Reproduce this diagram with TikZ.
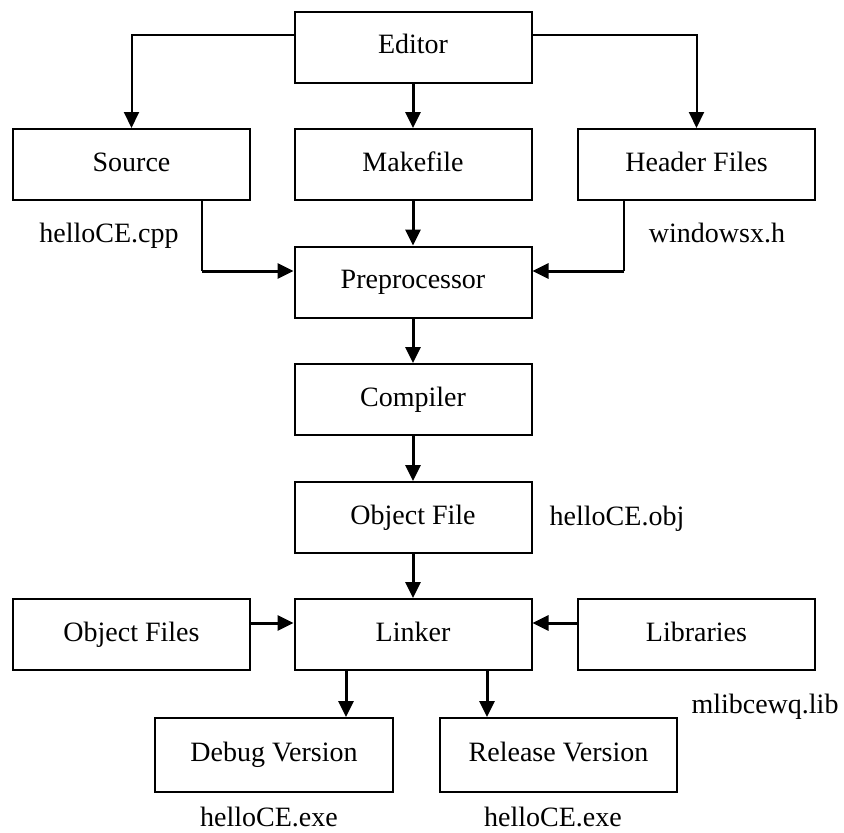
\documentclass[tikz,border=0pt]{standalone}
\usepackage{fontspec}
\setmainfont{Liberation Serif}
\usetikzlibrary{arrows.meta}

\tikzset{
  stagebox/.style={draw, line width=2pt, minimum width=237pt, minimum height=71pt,
                   inner sep=0pt, text height=19pt, text depth=6pt,
                   font=\fontsize{28}{34}\selectfont},
  filelabel/.style={anchor=base, inner sep=0pt, font=\fontsize{28}{34}\selectfont},
  flow/.style={line width=3pt, -{Triangle[length=16pt,width=15pt]}},
  plainline/.style={line width=2pt},
  feed/.style={line width=1.6pt}
}

\begin{document}
\begin{tikzpicture}[x=1pt, y=-1pt]
  \useasboundingbox (0,0) rectangle (844,833);

  % build stages
  \node[stagebox] (editor)   at (413,47)    {Editor};
  \node[stagebox] (source)   at (131.5,164.5) {Source};
  \node[stagebox] (makefile) at (413,164.5) {Makefile};
  \node[stagebox] (header)   at (696.5,164.5) {Header Files};
  \node[stagebox] (pre)      at (413,282)   {Preprocessor};
  \node[stagebox] (compiler) at (413,399.5) {Compiler};
  \node[stagebox] (objfile)  at (413,517.5) {Object File};
  \node[stagebox] (objfiles) at (131.5,634.5) {Object Files};
  \node[stagebox] (linker)   at (413,634.5) {Linker};
  \node[stagebox] (libs)     at (696.5,634.5) {Libraries};
  \node[stagebox, minimum width=238pt, minimum height=74pt] (debug)   at (274,755)   {Debug Version};
  \node[stagebox, minimum height=74pt] (release) at (558.5,755) {Release Version};

  % file names
  \node[filelabel] (cpp)  at (109,242) {helloCE.cpp};
  \node[filelabel] (hdr)  at (717,242) {windowsx.h};
  \node[filelabel] (obj)  at (617,525) {helloCE.obj};
  \node[filelabel] (lib)  at (765,713) {mlibcewq.lib};
  \node[filelabel] (exe1) at (269,826) {helloCE.exe};
  \node[filelabel] (exe2) at (553,826) {helloCE.exe};

  % editor outputs
  \draw[plainline, -{Triangle[length=16pt,width=15pt]}]
    ([yshift=12pt]editor.west) -| (source.north);
  \draw[plainline, -{Triangle[length=16pt,width=15pt]}]
    ([yshift=12pt]editor.east) -| (header.north);
  \draw[flow] (editor.south) -- (makefile.north);

  % into the preprocessor
  \coordinate (sbend) at (202,271);
  \coordinate (hbend) at (624,271);
  \draw[feed] (source.south -| sbend) -- (sbend);
  \draw[flow] (sbend) -- (sbend -| pre.west);
  \draw[feed] (header.south -| hbend) -- (hbend);
  \draw[flow] (hbend) -- (hbend -| pre.east);
  \draw[flow] (makefile.south) -- (pre.north);

  % compile chain
  \draw[flow] (pre.south) -- (compiler.north);
  \draw[flow] (compiler.south) -- (objfile.north);
  \draw[flow] (objfile.south) -- (linker.north);

  % link inputs
  \draw[flow] ([yshift=11.5pt]objfiles.east) -- ([yshift=11.5pt]linker.west);
  \draw[flow] ([yshift=11.5pt]libs.west) -- ([yshift=11.5pt]linker.east);

  % link outputs
  \draw[flow] ([xshift=-67pt]linker.south) -- ([xshift=-67pt]linker.south |- debug.north);
  \draw[flow] ([xshift=74pt]linker.south) -- ([xshift=74pt]linker.south |- release.north);
\end{tikzpicture}
\end{document}
